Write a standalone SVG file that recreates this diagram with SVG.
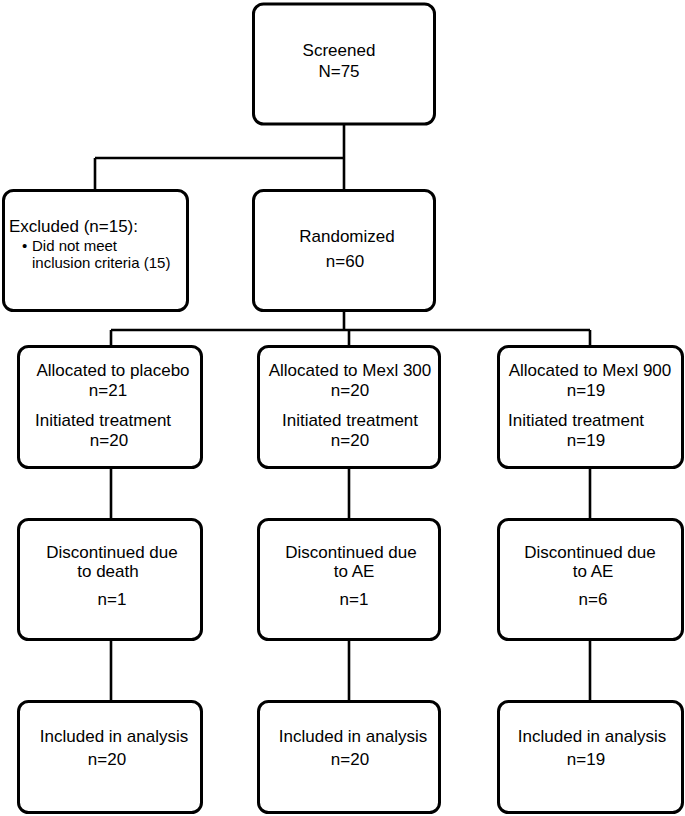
<svg xmlns="http://www.w3.org/2000/svg" width="685" height="816" viewBox="0 0 685 816">
<style>
.box{fill:#fff;stroke:#000;stroke-width:3}
.ln{fill:none;stroke:#000;stroke-width:2.6}
text{font-family:"Liberation Sans",Arial,sans-serif;font-size:17px;fill:#000}
.m{text-anchor:middle}
.s{font-size:15px}
</style>
<rect width="685" height="816" fill="#fff"/>
<g id="connectors">
<path class="ln" d="M344 125V190M95 158H344M95 158V190"/>
<path class="ln" d="M344 311V330M111 330H590M111 330V346M349 330V346M590 330V346"/>
<path class="ln" d="M111 468V519M349 468V519M590 468V519"/>
<path class="ln" d="M111 640V701M349 640V701M590 640V701"/>
</g>
<g id="screened">
<rect class="box" x="253.5" y="4" width="181" height="120" rx="10"/>
<text class="m" x="339" y="56">Screened</text>
<text class="m" x="339" y="77">N=75</text>
</g>
<g id="excluded">
<rect class="box" x="3.5" y="190.5" width="184" height="120" rx="10"/>
<text x="9" y="232">Excluded (n=15):</text>
<text class="s" x="22" y="251">•</text>
<text class="s" x="32" y="251">Did not meet</text>
<text class="s" x="32" y="268">inclusion criteria (15)</text>
</g>
<g id="randomized">
<rect class="box" x="253.5" y="190.5" width="181" height="120" rx="10"/>
<text class="m" x="347" y="242">Randomized</text>
<text class="m" x="345" y="267">n=60</text>
</g>
<g id="alloc-placebo">
<rect class="box" x="18.5" y="346.5" width="183" height="121" rx="10"/>
<text class="m" x="113" y="376">Allocated to placebo</text>
<text class="m" x="108" y="396">n=21</text>
<text x="35" y="426">Initiated treatment</text>
<text class="m" x="109" y="446">n=20</text>
</g>
<g id="alloc-mexl300">
<rect class="box" x="258.5" y="346.5" width="181" height="121" rx="10"/>
<text class="m" x="350" y="376">Allocated to Mexl 300</text>
<text class="m" x="350" y="396">n=20</text>
<text class="m" x="350" y="426">Initiated treatment</text>
<text class="m" x="350" y="446">n=20</text>
</g>
<g id="alloc-mexl900">
<rect class="box" x="498.5" y="346.5" width="184" height="121" rx="10"/>
<text class="m" x="590" y="376">Allocated to Mexl 900</text>
<text class="m" x="586" y="396">n=19</text>
<text x="508" y="426">Initiated treatment</text>
<text class="m" x="586" y="446">n=19</text>
</g>
<g id="disc-placebo">
<rect class="box" x="18.5" y="519.5" width="183" height="120" rx="10"/>
<text class="m" x="112" y="558">Discontinued due</text>
<text class="m" x="108" y="577">to death</text>
<text class="m" x="112" y="605">n=1</text>
</g>
<g id="disc-mexl300">
<rect class="box" x="258.5" y="519.5" width="181" height="120" rx="10"/>
<text class="m" x="351" y="558">Discontinued due</text>
<text class="m" x="354" y="577">to AE</text>
<text class="m" x="354" y="605">n=1</text>
</g>
<g id="disc-mexl900">
<rect class="box" x="498.5" y="519.5" width="184" height="120" rx="10"/>
<text class="m" x="590" y="558">Discontinued due</text>
<text class="m" x="593" y="577">to AE</text>
<text class="m" x="593" y="605">n=6</text>
</g>
<g id="incl-placebo">
<rect class="box" x="18.5" y="701.5" width="183" height="111" rx="10"/>
<text class="m" x="114" y="742">Included in analysis</text>
<text class="m" x="107" y="765">n=20</text>
</g>
<g id="incl-mexl300">
<rect class="box" x="258.5" y="701.5" width="181" height="111" rx="10"/>
<text class="m" x="353" y="742">Included in analysis</text>
<text class="m" x="350" y="765">n=20</text>
</g>
<g id="incl-mexl900">
<rect class="box" x="498.5" y="701.5" width="184" height="111" rx="10"/>
<text class="m" x="592" y="742">Included in analysis</text>
<text class="m" x="586" y="765">n=19</text>
</g>
</svg>
